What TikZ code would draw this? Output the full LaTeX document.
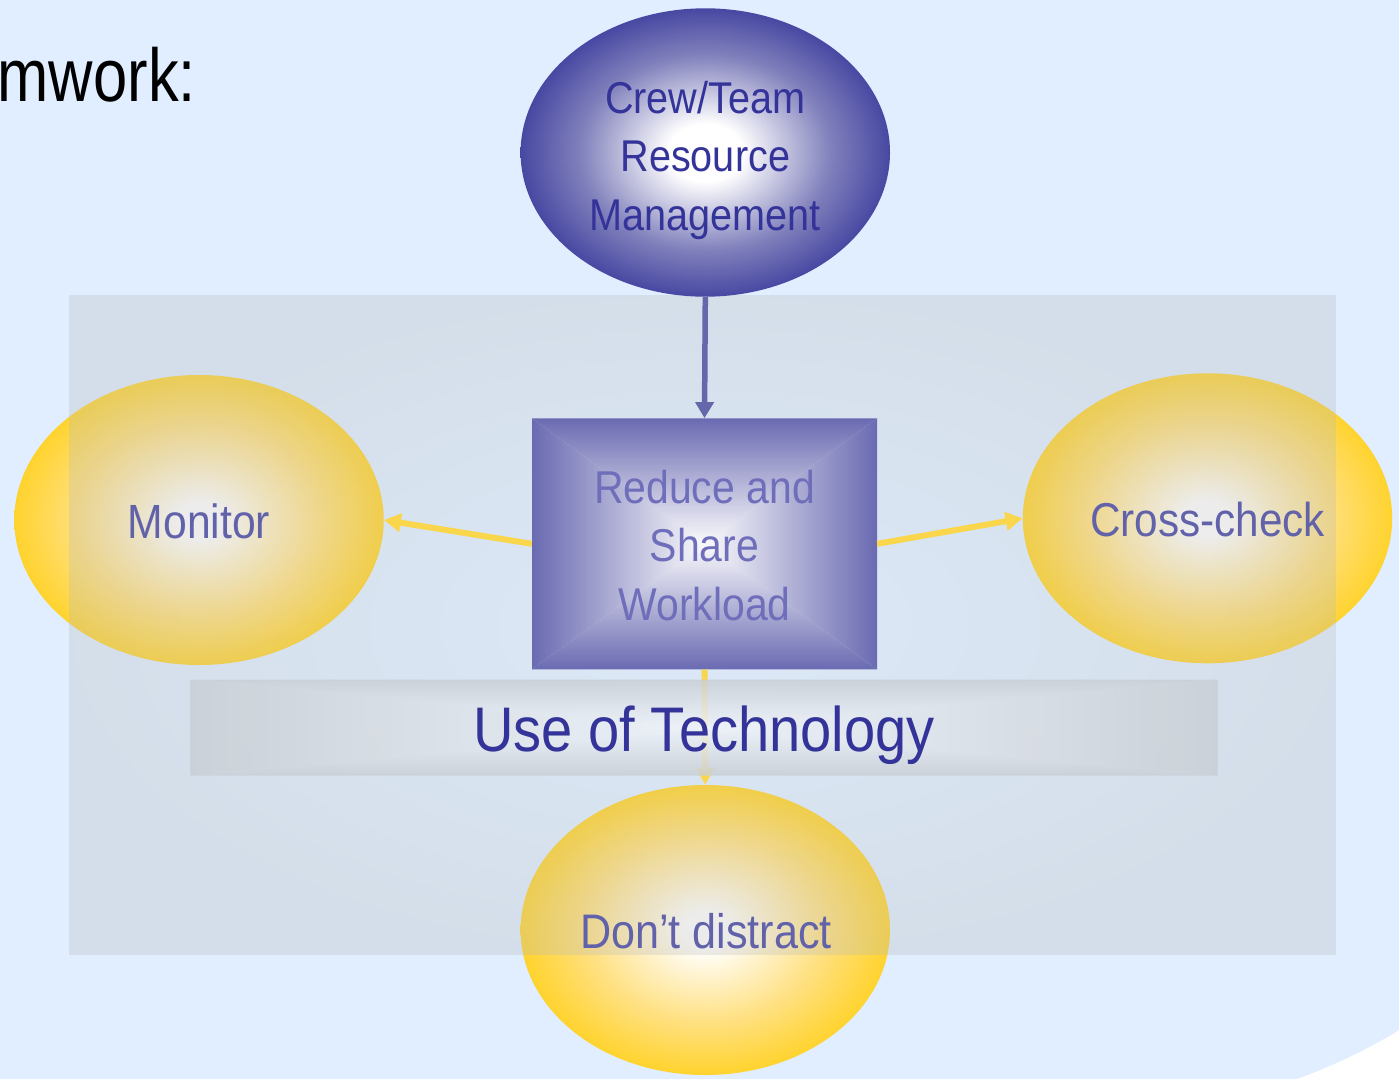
\documentclass[tikz,border=0pt]{standalone}
\usepackage{fontspec}
\setmainfont{Liberation Sans}[FakeStretch=0.89]
\newfontfamily\headfont{Liberation Sans}[FakeStretch=0.82]
\usetikzlibrary{shapes.geometric,arrows.meta,fadings}

\definecolor{skyblue}{HTML}{E0EEFF}
\definecolor{gold}{HTML}{FFCC00}
\definecolor{goldmid}{HTML}{FFE080}
\definecolor{navy}{HTML}{333399}
\definecolor{navymid}{HTML}{8080BC}
\definecolor{boxedge}{HTML}{6A6AB2}
\definecolor{boxmid}{HTML}{B4B4D8}
\definecolor{boxcentre}{HTML}{FAFAFC}
\definecolor{labelblue}{HTML}{6262AA}
\definecolor{boxtext}{HTML}{6E6EBA}
\definecolor{arrowyellow}{HTML}{FAD64C}
\definecolor{arrowblue}{HTML}{6666AA}
\definecolor{panelgrey}{HTML}{BBBCBA}
\definecolor{baredge}{HTML}{C9CFD5}
\definecolor{barmid}{HTML}{DDE2E9}
\definecolor{barlight}{HTML}{F0F4FA}

% ball-like fills for the ellipses
\pgfdeclareradialshading{goldball}{\pgfpoint{0bp}{0bp}}%
  {color(0bp)=(white); color(3bp)=(white); color(16bp)=(goldmid); color(30bp)=(gold); color(50bp)=(gold)}
\pgfdeclareradialshading{navyball}{\pgfpoint{0bp}{0bp}}%
  {color(0bp)=(white); color(5bp)=(white); color(17bp)=(navymid); color(28bp)=(navy); color(50bp)=(navy)}

% the panel is lighter towards its middle
\tikzfading[name=panelfade, inner color=transparent!70, outer color=transparent!0]

% rectangular gradient: edge colour at the sides, centre colour in the middle
% #1 x1, #2 y1, #3 x2, #4 y2, #5 edge, #6 mid, #7 centre, #8 extra options
\newcommand\rectgrad[8]{%
  \pgfmathsetmacro\rgx{(#1+#3)/2}%
  \pgfmathsetmacro\rgy{(#2+#4)/2}%
  \begin{scope}
    \clip (#1,#2) -- (#3,#2) -- (\rgx,\rgy) -- cycle;
    \shade[top color=#5, middle color=#6, bottom color=#7, #8] (#1,#2) rectangle (#3,\rgy);
  \end{scope}
  \begin{scope}
    \clip (#1,#4) -- (#3,#4) -- (\rgx,\rgy) -- cycle;
    \shade[top color=#7, middle color=#6, bottom color=#5, #8] (#1,\rgy) rectangle (#3,#4);
  \end{scope}
  \begin{scope}
    \clip (#1,#2) -- (#1,#4) -- (\rgx,\rgy) -- cycle;
    \shade[left color=#5, middle color=#6, right color=#7, #8] (#1,#2) rectangle (\rgx,#4);
  \end{scope}
  \begin{scope}
    \clip (#3,#2) -- (#3,#4) -- (\rgx,\rgy) -- cycle;
    \shade[left color=#7, middle color=#6, right color=#5, #8] (\rgx,#2) rectangle (#3,#4);
  \end{scope}
}

\tikzset{
  goldellipse/.style={ellipse, inner sep=0pt, minimum width=369.4pt, minimum height=290pt, shading=goldball},
  navyellipse/.style={ellipse, inner sep=0pt, minimum width=369.4pt, minimum height=288.4pt, shading=navyball},
  goldlabel/.style={text=labelblue, inner sep=0pt, anchor=base},
  yarrow/.style={draw=arrowyellow, line width=6pt, -{Triangle[length=17pt,width=18pt]}},
  barrow/.style={draw=arrowblue, line width=5.5pt, -{Triangle[length=16pt,width=18pt]}},
}

\begin{document}
\begin{tikzpicture}[x=1pt,y=-1pt]
  \useasboundingbox (0,0) rectangle (1399,1079);

  % slide background
  \fill[white] (0,0) rectangle (1399,1079);
  \fill[skyblue] (0,0) -- (1399,0) -- (1399,1030)
    .. controls (1370,1048) and (1335,1065) .. (1297,1079) -- (0,1079) -- cycle;

  % heading
  \node[anchor=base west, inner sep=0pt, font=\headfont\fontsize{75}{80}\selectfont]
    (title) at (-2.5,101.7) {mwork:};

  % outer yellow ellipses
  \node[goldellipse] (mon)   at (199,520)    {};
  \node[goldellipse] (cross) at (1207.5,518.3) {};
  \node[goldellipse] (dont)  at (705.3,930)  {};

  % translucent panel
  \fill[panelgrey, fill opacity=0.3, path fading=panelfade] (70,295) rectangle (1339.5,955);

  % central box
  \node[inner sep=0pt, minimum width=345pt, minimum height=251pt] (box) at (704.5,543.8) {};
  \rectgrad{532}{418.3}{877}{669.3}{boxedge}{boxmid}{boxcentre}{}

  % top ellipse
  \node[navyellipse] (crew) at (705.3,152.5) {};

  % connectors
  \draw[barrow] (crew.south) -- (box.north);
  \draw[yarrow] (box.west) -- (mon.east);
  \draw[yarrow] (box.east) -- (cross.west);
  \draw[yarrow] (box.south) -- (dont.north);

  % technology bar
  \node[inner sep=0pt, minimum width=1027pt, minimum height=96pt] (bar) at (704,727.5) {};
  \rectgrad{190.5}{679.5}{1217.5}{775.5}{baredge}{barmid}{barlight}{fill opacity=0.85}

  % texts
  \node[text=navy, align=center, inner sep=0pt,
        font=\fontsize{44.5}{58.5}\selectfont] (crewtext) at (705.3,160)
    {Crew/Team\\Resource\\Management};
  \node[text=boxtext, align=center, inner sep=0pt,
        font=\fontsize{46}{58.5}\selectfont] (boxtext) at (704.5,545.2)
    {Reduce and\\Share\\Workload};
  \node[goldlabel, font=\fontsize{48}{50}\selectfont] (montext) at (199,538.3) {Monitor};
  \node[goldlabel, font=\fontsize{47.5}{50}\selectfont] (crosstext) at (1207.5,536.7) {Cross-check};
  \node[goldlabel, font=\fontsize{48.5}{50}\selectfont] (donttext) at (706,948) {Don’t distract};
  \node[text=navy, inner sep=0pt, anchor=base, font=\fontsize{63}{66}\selectfont]
    (bartext) at (704,751.7) {Use of Technology};
\end{tikzpicture}
\end{document}
